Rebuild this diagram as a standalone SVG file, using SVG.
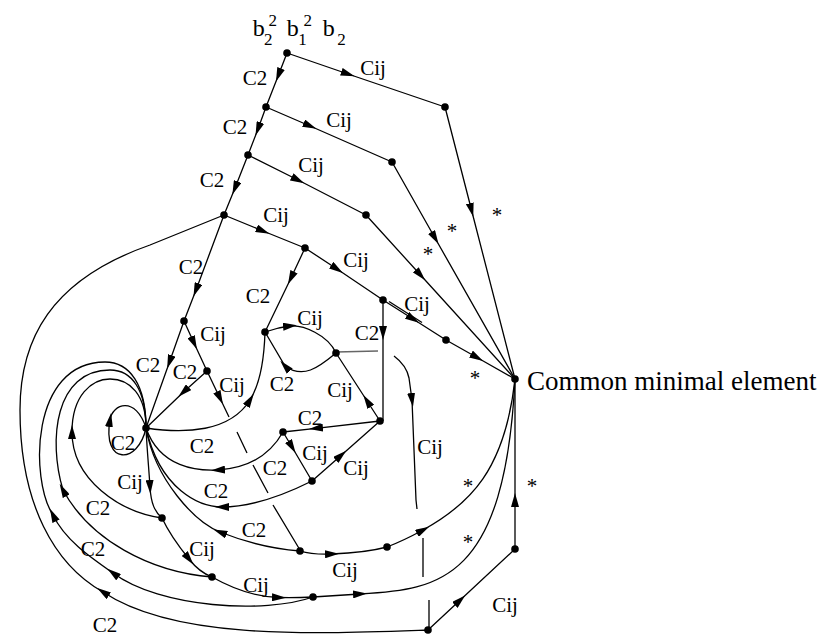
<svg xmlns="http://www.w3.org/2000/svg" width="823" height="636" viewBox="0 0 823 636">
<defs>
<marker id="a" markerUnits="userSpaceOnUse" markerWidth="14" markerHeight="8" viewBox="0 0 14 8" refX="7" refY="4" orient="auto"><path d="M0,0 L14,4 L0,8 z" fill="#000"/></marker>
<style>
.e{fill:none;stroke:#000;stroke-width:1.3}
.g{fill:none;stroke:#666;stroke-width:1.3}
.m{marker-mid:url(#a)}
.me{marker-end:url(#a)}
.d{fill:#000}
text{font-family:"Liberation Serif","Times New Roman",serif;font-size:21px;fill:#000}
.l{text-anchor:middle}
.b{font-size:24px}
.s{font-size:17px}
</style>
</defs>
<rect width="823" height="636" fill="#fff"/>
<g id="connectors">
<path class="e m" d="M287,53 L278.5,75 L266,107"/>
<path class="e m" d="M266,107 L258,129 L248,155"/>
<path class="e m" d="M248,155 L235,188 L224,215"/>
<path class="e m" d="M224,215 L196,290 L184,321"/>
<path class="e m" d="M287,53 L348,74 L445,107"/>
<path class="e m" d="M266,107 L310,126 L392,162"/>
<path class="e m" d="M248,155 L298,180 L366,215"/>
<path class="e m" d="M224,215 L263,231 L305,248"/>
<path class="e m" d="M445,107 L471.5,210 L515,379"/>
<path class="e m" d="M392,162 L435,238 L515,379"/>
<path class="e m" d="M366,215 L420.5,275 L515,379"/>
<path class="e m" d="M305,248 L337,269 L383,300"/>
<path class="e m" d="M383,300 L413,319 L446,340"/>
<path class="e" d="M389,301.5 L422,322.5"/>
<path class="e m" d="M446,340 L477,357.5 L515,379"/>
<path class="e m" d="M305,248 L291,278 L265,332"/>
<path class="e m" d="M383,300 L383,333 L383,421"/>
<path class="e m" d="M184,321 L194,343 L207,371"/>
<path class="e m" d="M184,321 L169.5,362 L146,428"/>
<path class="e m" d="M207,371 L183.5,392 L146,428"/>
<path class="e m" d="M207,371 L219.9,398 L229,417"/>
<path class="e" d="M237,432 L247,453 M253,465 L268,493 M273,505 L300,550"/>
<path class="g" d="M336,352 L378,351"/>
<path class="e me" d="M394,356 C402,362 407,368 409,378 L412,400"/>
<path class="e" d="M412,400 L416,500 L417,509 M423,538 L423,577 M429,600 L429,630"/>
<path class="e m" d="M265,332 C273,329 281,327 290,326 C303,324.6 328,335 336,353"/>
<path class="e m" d="M336,353 C318,368 303,379 285,366 L265,332"/>
<path class="e m" d="M380,421 L367.1,401 L336,353"/>
<path class="e m" d="M380,421 L316,428.3 L283,432"/>
<path class="e m" d="M283,432 L292,447 L312,481"/>
<path class="e m" d="M312,481 L341,455.4 L380,421"/>
<path class="e m" d="M146,428 C185,434 230,432 250,400 C258,387.2 264,365 265,332"/>
<path class="e m" d="M283,432 C270,455 250,468 218,470 C198,471.25 160,468 146,428"/>
<path class="e m" d="M312,481 C290,492 255,507 222,507 C200,507 160,490 146,428"/>
<path class="e m" d="M300,551 C275,549 245,542 220,532 C195,522 155,480 146,428"/>
<path class="e m" d="M146,428 C147,450 149,470 150,487 C151,504 155,512 162,518"/>
<path class="e m" d="M162,518 C170,535 180,548 189,559 C196,568 204,574 212,577"/>
<path class="e m" d="M212,577 C235,590 258,597 279,597.5 C292,597.8 303,597.5 313,597"/>
<path class="e m" d="M313,597 C330,596 345,595 360,594 C440,590 505,580 515,379"/>
<path class="e m" d="M300,551 C310,554 320,554.5 332,554 C350,553.3 372,551 387,547"/>
<path class="e m" d="M387,547 C400,542 412,536 423,530 C470,504 505,470 515,379"/>
<path class="e m" d="M428,630 L460,600.2 L515,549"/>
<path class="e m" d="M515,549 L515,500 L515,379"/>
<path class="e me" d="M428,630 C310,634 175,640 103,592"/>
<path class="e" d="M103,592 C55,565 20,505 20,410 C20,340 50,280 150,245 L224,215"/>
<path class="e m" d="M146,428 C138,465 102,465 110,420 C112.4,403.2 136,396 146,428"/>
<path class="e me" d="M162,518 C120,512 72,480 72,432"/>
<path class="e" d="M72,432 C72,395 92,379 110,379 C130,379 146,395 146,428"/>
<path class="e me" d="M212,577 C150,572 90,540 63,490"/>
<path class="e" d="M63,490 C48,440 55,370 110,370 C132,370 146,390 146,428"/>
<path class="e me" d="M313,597 C265,614 160,608 113,573"/>
<path class="e me" d="M113,573 C90,557 65,540 53,515"/>
<path class="e" d="M53,515 C30,480 30,362 105,362 C130,362 146,385 146,428"/>
</g>
<g id="labels">
<text class="l" x="255" y="85">C2</text>
<text class="l" x="235" y="134">C2</text>
<text class="l" x="212" y="187">C2</text>
<text class="l" x="191" y="274">C2</text>
<text class="l" x="258" y="303">C2</text>
<text class="l" x="367" y="340">C2</text>
<text class="l" x="282" y="391">C2</text>
<text class="l" x="310" y="425">C2</text>
<text class="l" x="148" y="372">C2</text>
<text class="l" x="185" y="379">C2</text>
<text class="l" x="123" y="450">C2</text>
<text class="l" x="202" y="453">C2</text>
<text class="l" x="275" y="475">C2</text>
<text class="l" x="216" y="498">C2</text>
<text class="l" x="254" y="537">C2</text>
<text class="l" x="98" y="515">C2</text>
<text class="l" x="93" y="556">C2</text>
<text class="l" x="105" y="632">C2</text>
<text class="l" x="373" y="75">Cij</text>
<text class="l" x="339" y="127">Cij</text>
<text class="l" x="311" y="172">Cij</text>
<text class="l" x="276" y="222">Cij</text>
<text class="l" x="356" y="267">Cij</text>
<text class="l" x="417" y="311">Cij</text>
<text class="l" x="310" y="325">Cij</text>
<text class="l" x="213" y="341">Cij</text>
<text class="l" x="232" y="392">Cij</text>
<text class="l" x="340" y="397">Cij</text>
<text class="l" x="315" y="460">Cij</text>
<text class="l" x="356" y="475">Cij</text>
<text class="l" x="430" y="454">Cij</text>
<text class="l" x="130" y="489">Cij</text>
<text class="l" x="202" y="556">Cij</text>
<text class="l" x="256" y="592">Cij</text>
<text class="l" x="345" y="577">Cij</text>
<text class="l" x="505" y="612">Cij</text>
<text class="l" x="497" y="222">*</text>
<text class="l" x="452" y="238">*</text>
<text class="l" x="428" y="261">*</text>
<text class="l" x="475" y="385">*</text>
<text class="l" x="468" y="493">*</text>
<text class="l" x="468" y="549">*</text>
<text class="l" x="532" y="493">*</text>
</g>
<g id="nA"><circle class="d" cx="287" cy="53" r="3.8"/>
<text class="b" x="252.7" y="35.7">b</text><text class="s" x="268.5" y="26">2</text><text class="s" x="264" y="45">2</text>
<text class="b" x="286.7" y="35.7">b</text><text class="s" x="303.5" y="26">2</text><text class="s" x="298.3" y="45">1</text>
<text class="b" x="322.7" y="35.7">b</text><text class="s" x="337.3" y="45">2</text></g>
<g id="nB"><circle class="d" cx="266" cy="107" r="3.8"/></g>
<g id="nC"><circle class="d" cx="248" cy="155" r="3.8"/></g>
<g id="nD"><circle class="d" cx="224" cy="215" r="3.8"/></g>
<g id="nE"><circle class="d" cx="445" cy="107" r="3.8"/></g>
<g id="nF"><circle class="d" cx="392" cy="162" r="3.8"/></g>
<g id="nG"><circle class="d" cx="366" cy="215" r="3.8"/></g>
<g id="nH"><circle class="d" cx="305" cy="248" r="3.8"/></g>
<g id="nI"><circle class="d" cx="383" cy="300" r="3.8"/></g>
<g id="nJ"><circle class="d" cx="446" cy="340" r="3.8"/></g>
<g id="nK"><circle class="d" cx="515" cy="379" r="3.8"/><text x="527" y="390" style="font-size:27px">Common minimal element</text></g>
<g id="nL"><circle class="d" cx="184" cy="321" r="3.8"/></g>
<g id="nM"><circle class="d" cx="265" cy="332" r="3.8"/></g>
<g id="nN"><circle class="d" cx="207" cy="371" r="3.8"/></g>
<g id="nP"><circle class="d" cx="146" cy="428" r="3.8"/></g>
<g id="nQ"><circle class="d" cx="336" cy="353" r="3.8"/></g>
<g id="nR"><circle class="d" cx="380" cy="421" r="3.8"/></g>
<g id="nS"><circle class="d" cx="283" cy="432" r="3.8"/></g>
<g id="nT"><circle class="d" cx="312" cy="481" r="3.8"/></g>
<g id="nU"><circle class="d" cx="162" cy="518" r="3.8"/></g>
<g id="nV"><circle class="d" cx="300" cy="551" r="3.8"/></g>
<g id="nW"><circle class="d" cx="387" cy="547" r="3.8"/></g>
<g id="nX"><circle class="d" cx="212" cy="577" r="3.8"/></g>
<g id="nY"><circle class="d" cx="313" cy="597" r="3.8"/></g>
<g id="nZ"><circle class="d" cx="428" cy="630" r="3.8"/></g>
<g id="nAA"><circle class="d" cx="515" cy="549" r="3.8"/></g>
</svg>
